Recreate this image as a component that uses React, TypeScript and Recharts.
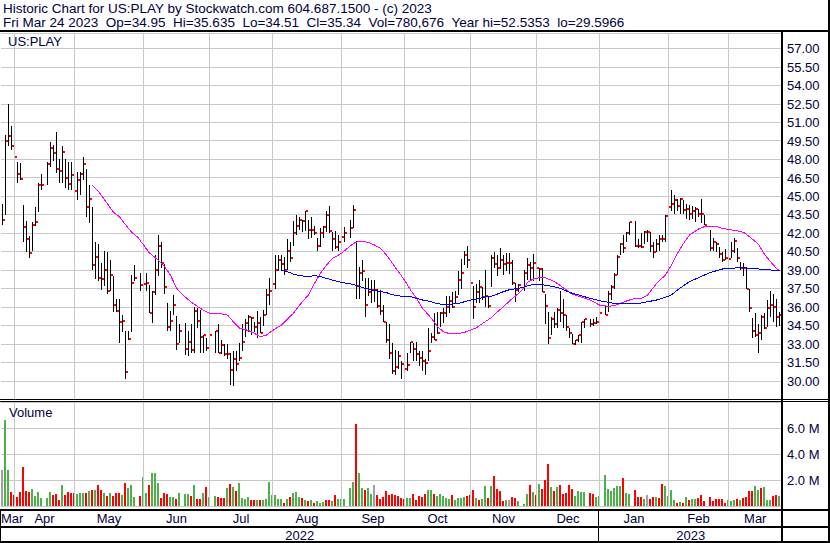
import React from 'react';
import { ComposedChart, Bar, Line, XAxis, YAxis, CartesianGrid, ReferenceLine } from 'recharts';

// one slot per weekday, Mon 28 Mar 2022 .. Fri 24 Mar 2023 (null = market holiday)
const highs = [
  44.4, 50.0, 52.54, 50.7, 49.5, 47.8, 47.7, 44.3, 43.0, 41.8,
  42.9, 44.1, 46.1, 46.8, null, 47.8, 49.4, 49.2, 50.2, 48.0,
  49.1, 48.0, 47.8, 47.8, 47.5, 47.0, 47.0, 48.2, 47.2, 45.9,
  44.1, 41.3, 41.1, 39.6, 40.6, 40.5, 39.8, 38.5, 36.7, 36.7,
  35.4, 34.1, 34.1, 38.6, 39.4, null, 38.8, 38.6, 38.8, 37.8,
  37.3, 40.2, 41.9, 41.3, 39.5, 36.3, 35.7, 37.0, 35.3, 34.6,
  null, 34.7, 34.1, 34.6, 36.0, 35.9, 35.8, 33.7, 33.5, 33.8,
  null, 34.1, 34.6, 33.3, 33.0, 33.0, 32.3, 32.4, 32.4, 33.1,
  34.6, 35.0, 35.4, 35.2, 34.8, 35.7, 35.2, 35.8, 37.5, 38.4,
  38.3, 40.2, 40.2, 40.2, 40.1, 41.5, 41.3, 43.0, 43.5, 43.3,
  43.1, 43.8, 43.1, 43.3, 42.6, 41.6, 42.4, 42.6, 43.8, 44.2,
  42.1, 42.2, 41.9, 42.2, 42.5, null, 43.1, 44.3, 41.4, 39.3,
  39.8, 38.4, 38.4, 38.2, 38.2, 37.5, 37.4, 36.2, 34.8, 34.6,
  33.1, 32.5, 32.4, 31.6, 31.8, 32.3, 33.2, 33.1, 33.2, 32.4,
  32.4, 31.8, 34.3, 33.9, 35.5, 35.6, 35.6, 35.9, 36.9, 36.9,
  37.2, 37.3, 38.9, 39.9, 40.6, 41.0, 39.6, 37.7, 37.9, 38.2,
  37.6, 39.0, 36.9, 40.2, 40.5, 40.2, 40.8, 40.2, 40.4, 40.4,
  39.8, 38.0, 37.9, null, 39.0, 40.0, 39.7, 40.3, 40.2, 39.2,
  39.2, 37.1, 35.6, 35.2, 35.6, 35.9, 37.3, 36.7, 35.4, 34.3,
  33.8, 33.3, 33.7, 34.8, 35.0, null, 35.0, 35.0, 35.2, 35.6,
  null, 36.2, 37.3, 37.8, 38.8, 40.2, 41.2, 41.9, 42.1, 42.9,
  null, 43.0, 41.5, 42.0, 42.2, 42.3, 42.1, 41.3, 41.5, 41.9,
  41.9, 43.5, 44.6, 45.5, 45.1, 44.8, 44.9, 44.7, 44.4, 44.3,
  44.2, 44.1, 44.0, 44.8, 43.5, null, 42.3, 41.6, 41.3, 40.9,
  40.5, 40.7, 40.4, 41.3, 41.6, 40.8, 39.7, 39.6, 39.3, 37.5,
  35.1, 35.5, 34.6, 35.4, 35.5, 36.6, 37.3, 37.1, 36.7, 35.64,
];

const lows = [
  42.7, 43.5, 49.1, 48.8, 47.8, 46.1, 46.3, 41.3, 40.5, 40.0,
  40.6, 42.6, 43.7, 45.5, null, 45.9, 47.4, 47.9, 46.9, 46.1,
  46.1, 45.7, 45.5, 45.5, 45.0, 44.7, 45.1, 46.3, 43.3, 42.8,
  39.0, 38.3, 38.1, 37.4, 37.7, 37.1, 37.3, 35.6, 35.6, 33.1,
  34.0, 30.2, 33.3, 34.0, 38.1, null, 37.3, 36.9, 37.3, 35.5,
  34.7, 37.0, 38.5, 39.2, 37.1, 34.1, 34.1, 35.4, 32.5, 33.1,
  null, 32.1, 32.0, 32.3, 32.3, 34.3, 32.3, 32.3, 32.4, 32.5,
  null, 32.3, 32.3, 32.2, 32.0, 31.8, 29.7, 29.6, 30.8, 31.6,
  32.4, 33.6, 34.0, 33.7, 34.0, 33.5, 33.9, 34.5, 35.4, 36.2,
  36.7, 37.5, 38.9, 38.9, 38.6, 39.0, 39.7, 41.0, 41.9, 42.3,
  42.1, 42.2, 41.5, 41.6, 41.9, 40.6, 40.9, 41.6, 42.1, 42.0,
  40.6, 40.7, 40.6, 40.3, 41.3, null, 41.6, 42.4, 36.7, 36.7,
  38.1, 35.2, 36.9, 36.3, 36.4, 35.9, 35.4, 34.8, 33.1, 31.8,
  30.6, 30.5, 31.0, 30.2, 30.8, 30.8, 32.3, 31.6, 31.6, 31.2,
  30.8, 30.5, 31.6, 33.1, 33.3, 33.8, 34.4, 34.7, 35.2, 35.5,
  35.9, 36.3, 37.0, 37.5, 39.4, 39.2, 37.6, 35.0, 36.3, 36.3,
  36.6, 36.0, 35.9, 37.6, 39.2, 38.5, 39.1, 38.6, 38.9, 38.7,
  37.8, 36.4, 37.2, null, 37.3, 38.2, 38.1, 38.1, 38.3, 38.1,
  37.2, 34.6, 33.0, 33.7, 34.3, 34.3, 34.8, 34.3, 34.1, 33.5,
  33.0, 32.9, 33.2, 33.1, 34.3, null, 34.4, 34.5, 34.6, 34.5,
  null, 35.4, 35.6, 36.6, 37.5, 38.6, 40.2, 40.4, 41.3, 41.9,
  null, 40.9, 40.8, 40.8, 41.1, 41.3, 40.5, 40.0, 40.5, 40.6,
  41.3, 41.3, 42.7, 43.8, 43.6, 43.8, 43.6, 43.6, 43.2, 43.1,
  43.2, 42.9, 43.3, 42.8, 42.7, null, 40.6, 40.6, 40.5, 40.0,
  39.7, 39.8, 39.4, 40.0, 40.4, 39.7, 39.0, 38.5, 37.5, 35.6,
  33.5, 33.6, 32.3, 33.3, 34.2, 34.4, 35.2, 34.8, 34.4, 34.51,
];

const closes = [
  43.1, 49.5, 49.9, 49.1, 48.2, 46.8, 46.4, 42.5, 41.5, 40.4,
  42.7, 42.9, 45.9, 45.9, null, 47.6, 48.9, 48.5, 47.2, 47.1,
  48.6, 46.5, 46.0, 46.7, 45.4, 46.3, 46.8, 47.6, 44.1, 44.8,
  39.4, 40.1, 38.4, 38.3, 39.0, 37.3, 38.6, 36.2, 35.7, 34.8,
  34.9, 30.7, 33.4, 38.0, 38.4, null, 37.8, 37.9, 38.0, 35.5,
  37.2, 39.0, 41.0, 39.6, 37.6, 34.4, 34.9, 36.2, 33.0, 34.1,
  null, 32.6, 33.2, 32.5, 35.7, 34.9, 33.6, 33.7, 32.7, 33.7,
  null, 34.1, 32.3, 32.9, 32.2, 32.2, 30.9, 31.8, 31.4, 31.9,
  33.2, 34.7, 35.2, 35.1, 34.4, 34.7, 33.9, 35.4, 37.0, 37.3,
  37.9, 39.0, 39.8, 39.5, 39.0, 40.6, 40.0, 42.0, 42.6, 43.1,
  43.0, 43.8, 42.3, 42.3, 42.0, 41.0, 42.0, 42.5, 43.5, 42.2,
  41.5, 40.9, 41.3, 41.7, 42.0, null, 42.4, 43.9, 37.7, 38.8,
  38.9, 36.2, 37.2, 37.4, 37.4, 36.1, 35.7, 34.8, 33.3, 32.3,
  30.8, 31.1, 32.0, 31.4, 31.0, 31.3, 33.2, 32.6, 32.2, 31.9,
  31.6, 31.5, 32.4, 33.6, 33.3, 33.9, 35.5, 35.5, 36.0, 36.5,
  36.0, 36.8, 38.2, 38.8, 40.2, 39.8, 38.0, 36.0, 37.2, 37.6,
  36.8, 36.9, 36.1, 40.0, 39.5, 39.2, 39.8, 39.5, 39.6, 39.6,
  38.0, 37.4, 37.8, null, 38.8, 39.4, 39.2, 39.6, 39.2, 39.1,
  37.2, 36.1, 33.5, 35.0, 34.6, 35.8, 35.5, 35.4, 34.4, 33.9,
  33.0, 33.3, 33.7, 34.8, 35.0, null, 34.6, 34.7, 34.8, 35.5,
  null, 35.4, 37.1, 37.6, 38.6, 40.1, 41.1, 40.8, 42.0, 42.9,
  null, 41.0, 41.0, 40.9, 42.1, 42.1, 41.0, 40.5, 41.1, 41.5,
  41.5, 43.4, 44.1, 44.4, 44.7, 44.2, 44.8, 43.9, 44.0, 43.6,
  43.8, 44.0, 43.6, 43.6, 42.7, null, 40.8, 41.3, 41.1, 40.3,
  39.8, 40.0, 39.9, 40.6, 41.4, 40.0, 39.2, 39.2, 37.5, 35.9,
  34.1, 33.7, 33.9, 35.2, 34.3, 35.9, 36.2, 36.0, 35.2, 35.34,
];

// volume in millions of shares
const volumes = [
  2.77, 6.64, 2.8, 1.08, 0.87, 0.72, 1.08, 2.97, 1.18, 1.08,
  1.33, 0.79, 1.08, 0.62, null, 0.62, 1.08, 0.82, 0.95, 0.49,
  1.64, 0.87, 1.08, 1.03, 1.03, 0.95, 1.03, 0.97, 1.0, 1.18,
  1.23, 1.23, 1.64, 1.23, 1.03, 0.79, 1.03, 0.79, 1.03, 1.03,
  0.87, 1.79, 1.38, 1.59, 0.72, null, 0.79, 2.26, 1.03, 1.6,
  2.56, 2.56, 1.79, 0.62, 1.03, 0.95, 0.72, 0.67, 0.56, 1.03,
  null, 0.95, 0.95, 0.79, 1.64, 0.51, 0.56, 1.03, 1.49, 0.72,
  null, 0.79, 0.72, 0.64, 0.64, 1.41, 1.72, 1.49, 1.18, 1.79,
  0.64, 0.56, 0.72, 0.46, 0.46, 0.46, 0.46, 0.46, 0.56, 1.87,
  0.82, 0.82, 0.56, 0.56, 0.26, 0.56, 0.72, 1.03, 1.1, 0.72,
  0.64, 0.46, 0.41, 0.46, 0.26, 0.41, 0.26, 0.31, 0.49, 0.49,
  0.41, 0.87, 0.54, 0.56, 0.56, null, 1.41, 1.87, 6.33, 2.56,
  1.41, 1.26, 1.41, 0.95, 1.64, 0.87, 0.56, 0.72, 1.18, 0.82,
  0.95, 0.87, 0.79, 0.64, 0.56, 0.64, 0.64, 0.95, 0.49, 0.79,
  0.72, 0.95, 1.26, 1.26, 0.95, 0.79, 0.95, 0.79, 0.64, 0.56,
  0.87, 0.49, 0.64, 0.64, 0.72, 0.79, 0.87, 1.26, 0.64, 0.49,
  0.56, 1.56, 0.64, 1.56, 2.33, 1.33, 1.13, 0.41, 0.49, 0.49,
  0.72, 0.64, 0.41, null, 0.18, 0.95, 1.64, 1.1, 0.87, 1.72,
  1.33, 2.03, 3.26, 1.49, 1.18, 1.49, 1.64, 0.95, 1.03, 1.64,
  1.33, 0.79, 1.18, 1.1, 1.1, null, 1.03, 0.95, 0.72, 0.79,
  null, 2.41, 1.33, 1.18, 1.41, 1.56, 1.56, 2.18, 1.03, 0.95,
  null, 1.26, 0.72, 0.72, 0.56, 0.87, 0.56, 0.72, 0.72, 0.64,
  1.72, 1.56, 0.79, 1.26, 0.49, 0.26, 0.33, 0.2, 0.72, 0.49,
  0.56, 0.56, 0.64, 0.87, 0.41, null, 0.72, 0.41, 0.56, 0.56,
  0.56, 0.26, 0.49, 0.41, 0.49, 0.56, 0.49, 0.64, 0.72, 1.18,
  1.18, 1.56, 1.26, 1.41, 1.49, 0.49, 0.49, 0.79, 0.87, 0.78,
];

// day direction as coloured in the volume panel: 1 up, -1 down, 0 unchanged
const volDir = [
  0, 1, 1, -1, -1, -1, -1, -1, -1, -1,
  1, 1, 1, 1, null, 1, 1, -1, -1, -1,
  1, -1, -1, -1, -1, 1, 1, 1, -1, 1,
  -1, 1, -1, -1, 1, -1, 1, -1, -1, -1,
  1, -1, 1, 1, 1, null, -1, 1, 1, -1,
  1, 1, 1, -1, -1, -1, 1, 1, -1, 1,
  null, 1, 1, -1, 1, -1, -1, 1, -1, 1,
  null, 1, -1, -1, -1, 1, -1, 1, -1, 1,
  1, 1, 1, -1, -1, 1, -1, 1, 1, 1,
  1, 1, 1, 1, -1, 1, -1, 1, 1, 1,
  -1, 1, -1, 1, -1, 1, 1, 1, -1, -1,
  1, -1, 1, 1, 1, null, 1, 1, -1, 1,
  1, -1, 1, 1, 0, -1, -1, -1, -1, -1,
  -1, -1, -1, -1, -1, 1, 1, -1, -1, -1,
  -1, -1, 1, 1, -1, 1, 1, 1, 1, 1,
  -1, 1, 1, 1, 1, -1, -1, -1, 1, -1,
  1, 1, -1, 1, -1, -1, -1, -1, 1, 0,
  -1, -1, 1, null, 1, 1, -1, 1, -1, 1,
  -1, -1, -1, 1, -1, 1, -1, -1, -1, -1,
  -1, 1, 1, 1, 1, null, -1, -1, 1, 1,
  null, 1, 1, 1, 1, 1, 1, -1, 1, 1,
  null, -1, -1, -1, 1, 0, -1, -1, 1, -1,
  -1, 1, 1, 1, 1, -1, 1, -1, 1, -1,
  1, 1, -1, -1, -1, null, -1, -1, -1, -1,
  -1, -1, 1, 1, 1, -1, 1, -1, -1, -1,
  -1, 1, 1, -1, 1, 1, 1, -1, -1, 1,
];

// moving averages: [day slot, price]
const magentaMA: [number, number][] = [
  [30, 45.9], [32, 45.4], [35, 44.4], [37, 43.7], [39, 43.35], [41, 42.7], [43, 42.1], [45, 41.7],
  [47, 41.05], [49, 40.4], [52, 39.8], [54, 39.3], [56, 38.6], [58, 37.55], [60, 37.0], [63, 36.4],
  [65, 36.05], [67, 35.75], [69, 35.5], [72, 35.5], [75, 35.36], [77, 34.8], [79, 34.3], [82, 34.1],
  [84, 33.87], [86, 33.6], [88, 33.74], [90, 34.1], [93, 34.55], [95, 35.04], [97, 35.5], [99, 36.17],
  [102, 37.0], [104, 37.93], [106, 38.75], [108, 39.42], [110, 39.96], [113, 40.37], [115, 40.78],
  [117, 41.18], [119, 41.37], [122, 41.26], [124, 41.05], [126, 40.78], [128, 40.24], [129, 39.9],
  [131, 39.2], [134, 38.2], [136, 37.39], [138, 36.72], [140, 35.9], [143, 35.09], [145, 34.41],
  [147, 34.0], [149, 33.85], [152, 33.87], [154, 33.95], [156, 34.14], [158, 34.33], [160, 34.68],
  [163, 35.15], [165, 35.63], [167, 36.04], [169, 36.5], [172, 37.12], [174, 37.6], [175, 38.02],
  [177, 38.29], [179, 38.39], [181, 38.39], [184, 38.07], [186, 37.74], [188, 37.39], [190, 37.04],
  [193, 36.82], [195, 36.66], [197, 36.44], [199, 36.17], [202, 36.07], [204, 36.12], [206, 36.31],
  [208, 36.5], [210, 36.66], [213, 36.72], [215, 36.99], [217, 37.6], [218, 37.93], [221, 38.61],
  [223, 39.42], [225, 40.37], [227, 41.18], [229, 41.86], [232, 42.35], [234, 42.54], [236, 42.59],
  [238, 42.54], [240, 42.4], [243, 42.27], [245, 42.19], [247, 42.08], [249, 41.72], [252, 41.1],
  [254, 40.29], [256, 39.69], [258, 39.15], [259, 38.94],
];

const blueMA: [number, number][] = [
  [93, 39.02], [95, 38.88], [97, 38.69], [99, 38.56], [102, 38.48], [104, 38.56], [106, 38.48],
  [108, 38.34], [110, 38.2], [113, 38.02], [115, 37.93], [117, 37.85], [119, 37.66], [122, 37.47],
  [124, 37.34], [126, 37.26], [128, 37.18], [130, 37.0], [132, 36.93], [134, 36.85], [136, 36.85],
  [138, 36.72], [140, 36.58], [143, 36.44], [145, 36.28], [147, 36.23], [149, 36.23], [152, 36.31],
  [154, 36.44], [156, 36.58], [158, 36.66], [160, 36.77], [163, 36.9], [165, 37.07], [167, 37.26],
  [169, 37.42], [172, 37.53], [174, 37.64], [175, 37.74], [177, 37.85], [179, 37.85], [182, 37.74],
  [184, 37.64], [186, 37.53], [188, 37.31], [190, 37.12], [193, 36.93], [195, 36.77], [197, 36.66],
  [199, 36.53], [202, 36.39], [204, 36.31], [206, 36.31], [208, 36.31], [210, 36.31], [213, 36.34],
  [215, 36.44], [217, 36.53], [218, 36.58], [220, 36.72], [223, 36.99], [225, 37.39], [227, 37.74],
  [229, 38.07], [232, 38.39], [234, 38.61], [236, 38.83], [238, 38.96], [240, 39.1], [243, 39.15],
  [245, 39.21], [247, 39.21], [249, 39.15], [252, 39.1], [254, 39.04], [256, 39.02], [259, 38.94],
];

const priceTicks = [30, 31.5, 33, 34.5, 36, 37.5, 39, 40.5, 42, 43.5, 45, 46.5, 48, 49.5, 51, 52.5, 54, 55.5, 57];
const volTicks = [2, 4, 6];
const monthNames = ['Mar', 'Apr', 'May', 'Jun', 'Jul', 'Aug', 'Sep', 'Oct', 'Nov', 'Dec', 'Jan', 'Feb', 'Mar'];
const monthStarts = [4, 24, 47, 69, 90, 113, 134, 156, 178, 199, 222, 242];
const yearNames = ['2022', '2023'];

const SP = '\u00a0\u00a0';
const headerLine1 = 'Historic Chart for US:PLAY by Stockwatch.com 604.687.1500 - (c) 2023';
const headerLine2 = [
  'Fri Mar 24 2023',
  'Op=34.95',
  'Hi=35.635',
  'Lo=34.51',
  'Cl=35.34',
  'Vol=780,676',
  'Year hi=52.5353',
  'lo=29.5966',
].join(SP);

const W = 830;
const H = 543;
const PLOT_LEFT = 1;
const PLOT_RIGHT = 781;
const BAND = (PLOT_RIGHT - PLOT_LEFT) / highs.length;
const PRICE_DOMAIN = [28.54, 58.27];
const TEXT = '#000040';
const FONT = '"Liberation Sans", Arial, sans-serif';
const GRID = '#c8c8c8';
const UP = '#4cb04c';
const DOWN = '#ff0000';
const FLAT = '#a0a0a0';

const ma1 = new Map(magentaMA);
const ma2 = new Map(blueMA);

const rows = highs.map((h, i) => ({
  i,
  hl: h == null ? null : [lows[i], h],
  c: closes[i],
  vol: volumes[i],
  dir: volDir[i],
  ma1: ma1.has(i) ? ma1.get(i) : null,
  ma2: ma2.has(i) ? ma2.get(i) : null,
}));

// high-low stick with the close as a small red square on its right
const HLBar = (props: any) => {
  const { x, y, width, height, payload } = props;
  if (!payload || payload.hl == null) return null;
  const [lo, hi] = payload.hl;
  const top = Math.min(y, y + height);
  const bottom = Math.max(y, y + height);
  const cy = hi > lo ? top + ((bottom - top) * (hi - payload.c)) / (hi - lo) : top;
  const bx = Math.floor(x + width / 2);
  const t = Math.round(top);
  return (
    <g>
      <rect x={bx} y={t} width={1} height={Math.max(1, Math.round(bottom) - t)} fill="#000" />
      <rect x={bx + 1} y={Math.round(cy) - 1} width={2} height={2} fill={DOWN} />
    </g>
  );
};

const VolBar = (props: any) => {
  const { x, y, height, payload } = props;
  if (!payload || payload.vol == null) return null;
  const t = Math.round(y);
  const b = Math.round(y + height) + 2;
  const fill = payload.dir > 0 ? UP : payload.dir < 0 ? DOWN : FLAT;
  return <rect x={Math.floor(x)} y={t} width={2} height={b - t} fill={fill} />;
};

const xOf = (i: number) => PLOT_LEFT + BAND * i + BAND / 2;

export default function App() {
  const bounds = [0, ...monthStarts.map(xOf), 782];
  const janX = xOf(monthStarts[9]);
  const tick = { fill: TEXT, fontSize: 13, fontFamily: FONT };

  return (
    <div
      style={{
        position: 'absolute',
        left: 0,
        top: 0,
        width: W,
        height: H,
        background: '#fff',
        overflow: 'hidden',
        shapeRendering: 'crispEdges',
      }}
    >
      <div style={{ position: 'absolute', left: 0, top: 0 }}>
        <ComposedChart width={W} height={400} data={rows} margin={{ top: 33, right: 0, bottom: 1, left: PLOT_LEFT }}>
          <CartesianGrid vertical={false} stroke={GRID} />
          <XAxis dataKey="i" type="category" hide />
          <YAxis
            orientation="right"
            type="number"
            domain={PRICE_DOMAIN}
            allowDataOverflow
            ticks={priceTicks}
            interval={0}
            tickFormatter={(v: number) => v.toFixed(2)}
            axisLine={false}
            tickLine={false}
            tickSize={6}
            tickMargin={0}
            width={49}
            tick={tick}
          />
          {monthStarts.map((m) => (
            <ReferenceLine key={m} x={m} stroke={GRID} />
          ))}
          <Line type="linear" dataKey="ma1" stroke="#ff00ff" dot={false} connectNulls isAnimationActive={false} />
          <Line type="linear" dataKey="ma2" stroke="#0000ff" dot={false} connectNulls isAnimationActive={false} />
          <Bar dataKey="hl" barSize={3} shape={<HLBar />} isAnimationActive={false} />
        </ComposedChart>
      </div>

      <div style={{ position: 'absolute', left: 0, top: 400 }}>
        <ComposedChart width={W} height={111} data={rows} margin={{ top: 2, right: 0, bottom: 5, left: PLOT_LEFT }}>
          <CartesianGrid vertical={false} stroke={GRID} />
          <XAxis dataKey="i" type="category" hide />
          <YAxis
            orientation="right"
            type="number"
            domain={[0, 8]}
            allowDataOverflow
            ticks={volTicks}
            interval={0}
            tickFormatter={(v: number) => `${v.toFixed(1)} M`}
            axisLine={false}
            tickLine={false}
            tickSize={6}
            tickMargin={0}
            width={49}
            tick={tick}
          />
          {monthStarts.map((m) => (
            <ReferenceLine key={m} x={m} stroke={GRID} />
          ))}
          <Bar dataKey="vol" barSize={3} shape={<VolBar />} isAnimationActive={false} />
        </ComposedChart>
      </div>

      <svg
        width={W}
        height={H}
        style={{ position: 'absolute', left: 0, top: 0, pointerEvents: 'none' }}
        fontFamily={FONT}
        fontSize={13}
        fill={TEXT}
      >
        <text x={3} y={12.5} fontSize={13.5}>{headerLine1}</text>
        <text x={3} y={26.5} fontSize={13.5}>{headerLine2}</text>
        <text x={8} y={46}>US:PLAY</text>
        <text x={9} y={417}>Volume</text>

        {monthNames.map((m, k) => (
          <text
            key={k}
            x={k === 0 ? 1 : (bounds[k] + bounds[k + 1]) / 2}
            y={522.5}
            textAnchor={k === 0 ? 'start' : 'middle'}
          >
            {m}
          </text>
        ))}
        {yearNames.map((yName, k) => (
          <text key={yName} x={k === 0 ? janX / 2 : (janX + 782) / 2} y={539.5} textAnchor="middle">
            {yName}
          </text>
        ))}

        <g fill="#000">
          <rect x={0} y={30} width={W} height={2} />
          <rect x={0} y={399} width={W} height={1} />
          <rect x={0} y={401} width={W} height={1} />
          <rect x={0} y={509} width={W} height={2} />
          <rect x={0} y={526} width={W} height={2} />
          <rect x={0} y={541} width={W} height={2} />
          <rect x={781} y={30} width={2} height={H - 30} />
          <rect x={828} y={0} width={2} height={H} />
          <rect x={0} y={509} width={1} height={34} />
          <rect x={Math.floor(janX) - 1} y={511} width={1} height={30} />
        </g>
      </svg>
    </div>
  );
}
